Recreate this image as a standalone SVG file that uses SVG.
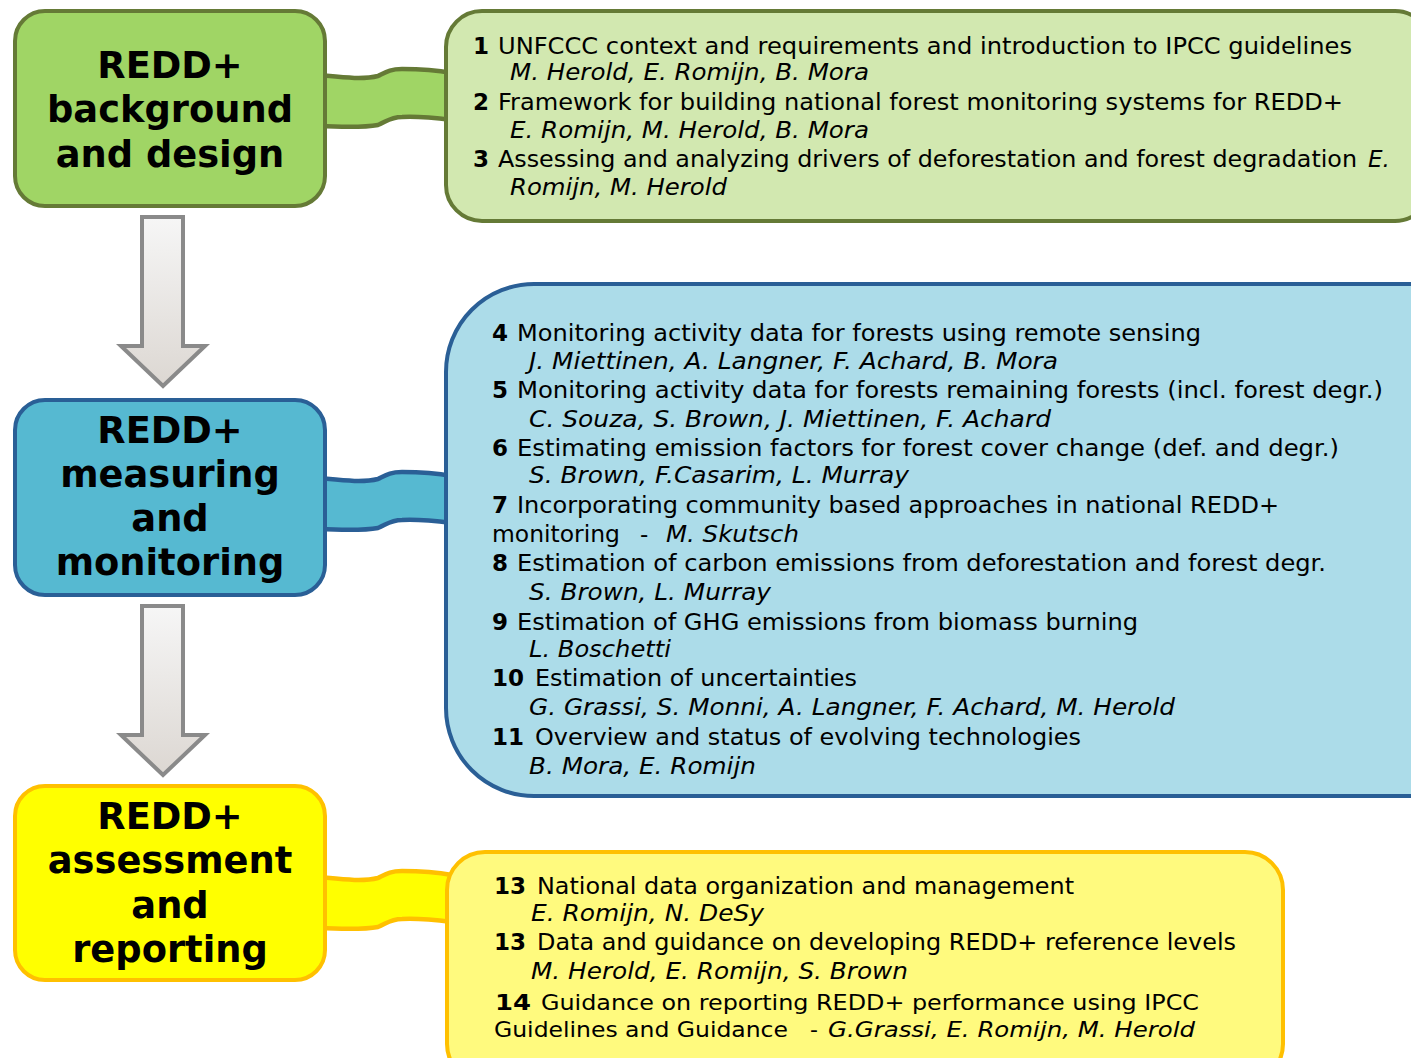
<svg xmlns="http://www.w3.org/2000/svg" width="1411" height="1058" viewBox="0 0 1411 1058">
<style>
text{font-family:"DejaVu Sans",Verdana,sans-serif;fill:#000}
.title{font-size:36.8px;font-weight:bold;text-anchor:middle}
.t{font-size:23px}
.b{font-size:23px;font-weight:bold}
.i{font-size:23px;font-style:italic}
.c{font-size:22px}
.cb{font-size:22px;font-weight:bold}
.ci{font-size:22px;font-style:italic}
.arrow{stroke:#8a8a8a;stroke-width:4;fill:url(#ag);stroke-linejoin:miter}
.rib{stroke-width:4.5;stroke-linejoin:round}
</style>
<defs>
<linearGradient id="ag" x1="0" y1="0" x2="0" y2="1">
<stop offset="0" stop-color="#f6f6f6"/>
<stop offset="1" stop-color="#dcd7d2"/>
</linearGradient>
<path id="ribbon" d="M 318,75 C 340,77 362,80 378,76 C 386,72 390,69 402,69 C 420,69 436,70 452,73 L 452,120 C 436,118 420,116 402,117 C 390,117 386,122 378,125 C 362,128 340,127 318,126 Z"/>
</defs>
<rect width="1411" height="1058" fill="#fff"/>
<g id="connectors">
<use href="#ribbon" class="rib" fill="#a0d565" stroke="#657a36"/>
<use href="#ribbon" class="rib" fill="#56b9d1" stroke="#2a5f96" transform="translate(0,403)"/>
<use href="#ribbon" class="rib" fill="#ffff00" stroke="#ffc000" transform="translate(0,802)"/>
<path class="arrow" d="M 142,217 H 183 V 346 H 205 L 163,386 L 121,346 H 142 Z"/>
<path class="arrow" d="M 142,606 H 183 V 735 H 205 L 163,775 L 121,735 H 142 Z"/>
</g>
<g id="node-background">
<rect x="15" y="11" width="310" height="195" rx="30" fill="#a0d565" stroke="#657a36" stroke-width="4"/>
<text class="title" x="170" y="78">REDD+</text>
<text class="title" x="170" y="122">background</text>
<text class="title" x="170" y="167">and design</text>
</g>
<g id="node-measuring">
<rect x="15" y="400" width="310" height="195" rx="30" fill="#56b9d1" stroke="#2a5f96" stroke-width="4"/>
<text class="title" x="170" y="443">REDD+</text>
<text class="title" x="170" y="487">measuring</text>
<text class="title" x="170" y="531">and</text>
<text class="title" x="170" y="575">monitoring</text>
</g>
<g id="node-assessment">
<rect x="15" y="786" width="310" height="194" rx="30" fill="#ffff00" stroke="#ffc000" stroke-width="4"/>
<text class="title" x="170" y="829">REDD+</text>
<text class="title" x="170" y="873">assessment</text>
<text class="title" x="170" y="918">and</text>
<text class="title" x="170" y="962">reporting</text>
</g>
<g id="node-chapters-1-3">
<rect x="446" y="11" width="985" height="210" rx="36" fill="#d2e8b0" stroke="#657a36" stroke-width="4"/>
<text class="b" x="473" y="54">1</text>
<text class="t" x="498" y="54" textLength="854" lengthAdjust="spacingAndGlyphs">UNFCCC context and requirements and introduction to IPCC guidelines</text>
<text class="i" x="510" y="80" textLength="359" lengthAdjust="spacingAndGlyphs">M. Herold, E. Romijn, B. Mora</text>
<text class="b" x="473" y="110">2</text>
<text class="t" x="498" y="110" textLength="845" lengthAdjust="spacingAndGlyphs">Framework for building national forest monitoring systems for REDD+</text>
<text class="i" x="510" y="138" textLength="359" lengthAdjust="spacingAndGlyphs">E. Romijn, M. Herold, B. Mora</text>
<text class="b" x="473" y="167">3</text>
<text class="t" x="498" y="167" textLength="859" lengthAdjust="spacingAndGlyphs">Assessing and analyzing drivers of deforestation and forest degradation</text>
<text class="i" x="1368" y="167">E.</text>
<text class="i" x="510" y="195" textLength="217" lengthAdjust="spacingAndGlyphs">Romijn, M. Herold</text>
</g>
<g id="node-chapters-4-11">
<rect x="446" y="284" width="1050" height="512" rx="88" fill="#acdce9" stroke="#2a5f96" stroke-width="4"/>
<text class="b" x="492" y="341">4</text>
<text class="t" x="517" y="341" textLength="684" lengthAdjust="spacingAndGlyphs">Monitoring activity data for forests using remote sensing</text>
<text class="i" x="529" y="369" textLength="529" lengthAdjust="spacingAndGlyphs">J. Miettinen, A. Langner, F. Achard, B. Mora</text>
<text class="b" x="492" y="398">5</text>
<text class="t" x="517" y="398" textLength="866" lengthAdjust="spacingAndGlyphs">Monitoring activity data for forests remaining forests (incl. forest degr.)</text>
<text class="i" x="529" y="427" textLength="522" lengthAdjust="spacingAndGlyphs">C. Souza, S. Brown, J. Miettinen, F. Achard</text>
<text class="b" x="492" y="456">6</text>
<text class="t" x="517" y="456" textLength="822" lengthAdjust="spacingAndGlyphs">Estimating emission factors for forest cover change (def. and degr.)</text>
<text class="i" x="529" y="483" textLength="380" lengthAdjust="spacingAndGlyphs">S. Brown, F.Casarim, L. Murray</text>
<text class="b" x="492" y="513">7</text>
<text class="t" x="517" y="513" textLength="762" lengthAdjust="spacingAndGlyphs">Incorporating community based approaches in national REDD+</text>
<text class="t" x="492" y="542" textLength="128" lengthAdjust="spacingAndGlyphs">monitoring</text>
<text class="t" x="640" y="542">-</text>
<text class="i" x="666" y="542" textLength="133" lengthAdjust="spacingAndGlyphs">M. Skutsch</text>
<text class="b" x="492" y="571">8</text>
<text class="t" x="517" y="571" textLength="809" lengthAdjust="spacingAndGlyphs">Estimation of carbon emissions from deforestation and forest degr.</text>
<text class="i" x="529" y="600" textLength="242" lengthAdjust="spacingAndGlyphs">S. Brown, L. Murray</text>
<text class="b" x="492" y="630">9</text>
<text class="t" x="517" y="630" textLength="621" lengthAdjust="spacingAndGlyphs">Estimation of GHG emissions from biomass burning</text>
<text class="i" x="529" y="657" textLength="142" lengthAdjust="spacingAndGlyphs">L. Boschetti</text>
<text class="b" x="492" y="686">10</text>
<text class="t" x="535" y="686" textLength="322" lengthAdjust="spacingAndGlyphs">Estimation of uncertainties</text>
<text class="i" x="529" y="715" textLength="646" lengthAdjust="spacingAndGlyphs">G. Grassi, S. Monni, A. Langner, F. Achard, M. Herold</text>
<text class="b" x="492" y="745">11</text>
<text class="t" x="535" y="745" textLength="546" lengthAdjust="spacingAndGlyphs">Overview and status of evolving technologies</text>
<text class="i" x="529" y="774" textLength="227" lengthAdjust="spacingAndGlyphs">B. Mora, E. Romijn</text>
</g>
<g id="node-chapters-12-14">
<rect x="447" y="852" width="836" height="230" rx="38" fill="#fffa7e" stroke="#ffc000" stroke-width="4"/>
<text class="b" x="494" y="894">13</text>
<text class="t" x="537" y="894" textLength="537" lengthAdjust="spacingAndGlyphs">National data organization and management</text>
<text class="i" x="531" y="921" textLength="233" lengthAdjust="spacingAndGlyphs">E. Romijn, N. DeSy</text>
<text class="b" x="494" y="950">13</text>
<text class="t" x="537" y="950" textLength="699" lengthAdjust="spacingAndGlyphs">Data and guidance on developing REDD+ reference levels</text>
<text class="i" x="531" y="979" textLength="377" lengthAdjust="spacingAndGlyphs">M. Herold, E. Romijn, S. Brown</text>
<text class="cb" x="495" y="1010" textLength="36" lengthAdjust="spacingAndGlyphs">14</text>
<text class="c" x="541" y="1010" textLength="658" lengthAdjust="spacingAndGlyphs">Guidance on reporting REDD+ performance using IPCC</text>
<text class="c" x="494" y="1037" textLength="294" lengthAdjust="spacingAndGlyphs">Guidelines and Guidance</text>
<text class="c" x="810" y="1037">-</text>
<text class="ci" x="828" y="1037" textLength="367" lengthAdjust="spacingAndGlyphs">G.Grassi, E. Romijn, M. Herold</text>
</g>
</svg>
